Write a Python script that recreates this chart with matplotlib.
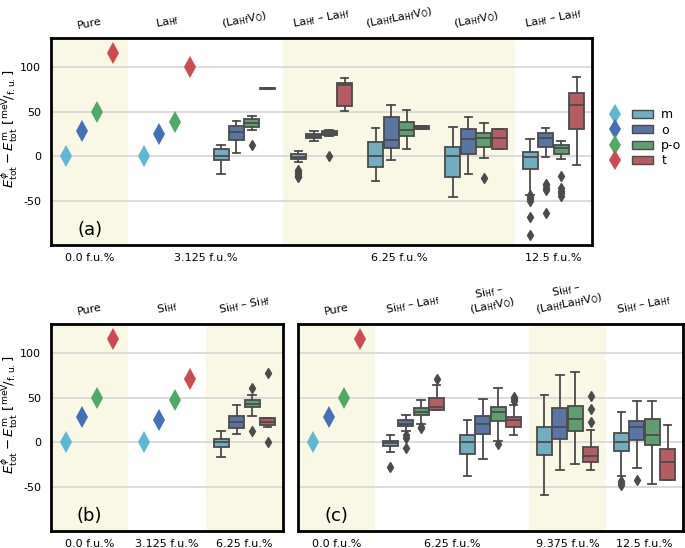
import colorsys
import numpy as np
import matplotlib
matplotlib.use('Agg')
import matplotlib.pyplot as plt
from matplotlib.lines import Line2D
from matplotlib.patches import Patch
from matplotlib.legend_handler import HandlerTuple

plt.rcParams['axes.unicode_minus'] = False
plt.rcParams['font.family'] = ['DejaVu Sans']

# ---------------- data ----------------
hues = ['m', 'o', 'p-o', 't']
hue_colors = ['#5DB8D6', '#4470B8', '#4FAA66', '#CF4950']

# box statistics per hue: (whislo, q1, median, q3, whishi, fliers)
# ---- panel (a) ----
a_pure = [0, 28, 50, 116]
a_la = [0, 25, 38, 100]
a_lavo_3125 = [(-20.5, -4.5, 0.5, 8, 13, []),
               (3, 18, 27, 34.5, 39.5, []),
               (29, 32.5, 37.5, 41.5, 45, [13]),
               (76, 76, 76.5, 77, 77, [])]
a_lala_625 = [(-6.5, -3.5, -0.5, 2, 6, [-16, -18, -20, -22, -24]),
              (17.5, 20, 22.5, 24.5, 28, []),
              (22.5, 23.5, 26, 28.5, 30, [0.5]),
              (51, 56, 80.5, 82, 88, [])]
a_lalavo_625 = [(-27.5, -12.5, 0, 16, 31.5, []),
                (-4, 9, 18, 44, 57.5, []),
                (8.5, 23, 29.5, 39, 52, []),
                (30.5, 30.5, 32.5, 34, 34, [])]
a_lavo_625 = [(-45.5, -23.5, 0, 10, 32.5, []),
              (-20, 2.5, 19.5, 30.5, 44.5, []),
              (-2.5, 10, 20, 26.5, 37, [-25]),
              (8.5, 8.5, 20, 31, 31, [])]
a_lala_125 = [(-43.5, -14.5, -0.5, 5, 19, [-44, -46, -48, -51, -68, -88.5]),
              (-1, 10, 20.5, 26.5, 31.5, [-31, -33, -36, -38, -64]),
              (-3.5, 2.5, 9, 12.5, 17, [-22, -36, -39, -42, -45]),
              (-10, 31, 58, 71.5, 89, [])]
a_groups = [a_pure, a_la, a_lavo_3125, a_lala_625, a_lalavo_625, a_lavo_625, a_lala_125]
a_names = ['Pure', r'La$_{\mathrm{Hf}}$', r'(La$_{\mathrm{Hf}}$V$_{\mathrm{O}}$)',
           r'La$_{\mathrm{Hf}}$ – La$_{\mathrm{Hf}}$',
           r'(La$_{\mathrm{Hf}}$La$_{\mathrm{Hf}}$V$_{\mathrm{O}}$)',
           r'(La$_{\mathrm{Hf}}$V$_{\mathrm{O}}$)',
           r'La$_{\mathrm{Hf}}$ – La$_{\mathrm{Hf}}$']
a_pct = ['0.0', '3.125', '3.125', '6.25', '6.25', '6.25', '12.5']

# ---- panel (b) ----
b_pure = [0, 28, 50, 116]
b_si = [0, 25, 48, 71]
b_sisi_625 = [(-16.5, -6, 0.5, 3.5, 12.5, []),
              (9.5, 16, 23, 29.5, 41.5, []),
              (29.5, 39.5, 43.5, 47, 53, [60.5, 13]),
              (17, 19, 23, 27.5, 27.5, [78, 0])]
b_groups = [b_pure, b_si, b_sisi_625]
b_names = ['Pure', r'Si$_{\mathrm{Hf}}$', r'Si$_{\mathrm{Hf}}$ – Si$_{\mathrm{Hf}}$']
b_pct = ['0.0', '3.125', '6.25']

# ---- panel (c) ----
c_pure = [0, 28, 50, 116]
c_sila_625 = [(-11, -4, -0.5, 1.5, 8, [-28]),
              (12.5, 18, 21, 24.5, 31, [8, 5, -7]),
              (20.5, 30.5, 34, 38, 48, [17.5, 15.5]),
              (36.5, 36.5, 40, 49.5, 64, [71])]
c_silavo_625 = [(-38, -13.5, 0, 8, 25, []),
                (-19, 9, 21, 29.5, 49, []),
                (1, 23.5, 33.5, 40, 61, [-2]),
                (8.5, 17, 25, 28, 41.5, [46, 48.5, 51])]
c_silalavo_9375 = [(-60, -14.5, 0, 17, 53.5, []),
                   (-31.5, 3.5, 17, 38, 76, []),
                   (-24.5, 12, 26.5, 40.5, 79, []),
                   (-31, -22, -16, -5, 14, [22.5, 37.5, 52.5])]
c_sila_125 = [(-38, -9.5, 0.5, 10, 34, [-44, -46, -48]),
              (-29, 2, 17.5, 24, 46.5, [-43]),
              (-47, -3, 8, 26.5, 46.5, []),
              (-42.5, -42.5, -22.5, -8, 19, [])]
c_groups = [c_pure, c_sila_625, c_silavo_625, c_silalavo_9375, c_sila_125]
c_names = ['Pure', r'Si$_{\mathrm{Hf}}$ – La$_{\mathrm{Hf}}$',
           'Si$_{\\mathrm{Hf}}$ –\n(La$_{\\mathrm{Hf}}$V$_{\\mathrm{O}}$)',
           'Si$_{\\mathrm{Hf}}$ –\n(La$_{\\mathrm{Hf}}$La$_{\\mathrm{Hf}}$V$_{\\mathrm{O}}$)',
           r'Si$_{\mathrm{Hf}}$ – La$_{\mathrm{Hf}}$']
c_pct = ['0.0', '6.25', '6.25', '9.375', '12.5']

y_ticks = [-50, 0, 50, 100]


# ---------------- styling helpers ----------------
def desat(c, p=0.75):
    r, g, b = matplotlib.colors.to_rgb(c)
    h, l, s = colorsys.rgb_to_hls(r, g, b)
    return colorsys.hls_to_rgb(h, l, s * p)


box_colors = [desat(c) for c in ['#64B5CD', '#4C72B0', '#55A868', '#C44E52']]
gray = '#4b4b4b'
shade = '#f8f8e4'
W = 685
H = 548
TICK_FS = 8


def draw_panel(ax, groups, names, pcts, letter, show_ylab):
    n = len(groups)
    ax.set_xlim(-0.5, n - 0.5)
    ax.set_ylim(-100, 133)
    ax.set_facecolor('white')
    uniq = list(dict.fromkeys(pcts))
    ticks, ticklabels = [], []
    for k, p in enumerate(uniq):
        idx = [i for i, q in enumerate(pcts) if q == p]
        if k % 2 == 0:
            ax.axvspan(min(idx) - 0.5, max(idx) + 0.5, color=shade, zorder=0, lw=0)
        ticks.append(np.mean(idx))
        ticklabels.append(f'{p} f.u.%')
    ax.set_xticks(ticks)
    ax.set_xticklabels(ticklabels, fontsize=TICK_FS)
    ax.set_yticks(y_ticks)
    if show_ylab:
        ax.set_yticklabels([str(t) for t in y_ticks], fontsize=TICK_FS)
    else:
        ax.set_yticklabels([])
    ax.tick_params(axis='x', length=0, pad=6)
    ax.tick_params(axis='y', length=0, pad=7)
    ax.yaxis.grid(True, color='#d6d6d6', lw=1.2, zorder=0.5)
    ax.set_axisbelow(True)
    for s in ax.spines.values():
        s.set_linewidth(2)
        s.set_color('black')
        s.set_zorder(5)

    for g, grp in enumerate(groups):
        for h, val in enumerate(grp):
            x = g + (h - 1.5) * 0.2
            if np.isscalar(val):
                ax.plot([x], [val], marker='d', ms=11, color=hue_colors[h], ls='none', zorder=3,
                        markeredgewidth=0)
            else:
                lo, q1, med, q3, hi, fl = val
                st = [dict(whislo=lo, q1=q1, med=med, q3=q3, whishi=hi, fliers=fl)]
                ax.bxp(st, positions=[x], widths=0.194, patch_artist=True, showfliers=True,
                       manage_ticks=False, capwidths=0.097,
                       boxprops=dict(facecolor=box_colors[h], edgecolor=gray, linewidth=1.3),
                       medianprops=dict(color=gray, lw=1.3),
                       whiskerprops=dict(color=gray, lw=1.3),
                       capprops=dict(color=gray, lw=1.3),
                       flierprops=dict(marker='d', markerfacecolor=gray, markeredgecolor=gray,
                                       markersize=5, ls='none'))
        ax.annotate(names[g], xy=(g, 1), xycoords=('data', 'axes fraction'),
                    xytext=(0, 7), textcoords='offset pixels', ha='center', va='bottom',
                    rotation=11, fontsize=8, linespacing=1.0, annotation_clip=False)
    ax.text(0, -83, letter, ha='center', va='center', fontsize=13)


fig = plt.figure(figsize=(W / 100, H / 100), dpi=100)


def add_ax(l, r, t, b):
    return fig.add_axes([l / W, 1 - b / H, (r - l) / W, (b - t) / H])


ax_a = add_ax(51, 592, 38, 245)
ax_b = add_ax(51, 283, 324, 531)
ax_c = add_ax(298, 683, 324, 531)

draw_panel(ax_a, a_groups, a_names, a_pct, '(a)', True)
draw_panel(ax_b, b_groups, b_names, b_pct, '(b)', True)
draw_panel(ax_c, c_groups, c_names, c_pct, '(c)', False)

ylab = (r'$E^{\phi}_{\mathrm{tot}} - E^{\mathrm{m}}_{\mathrm{tot}}\ '
        r'[{}^{\mathrm{meV}}\!/_{\mathrm{f.u.}}]$')
for ax in (ax_a, ax_b):
    ax.set_ylabel(ylab, fontsize=9.5)
    ax.yaxis.set_label_coords(-31 / (ax.get_position().width * W), 0.56)

handles = [(Line2D([], [], marker='d', ms=10, color=c, ls='none', markeredgewidth=0),
            Patch(facecolor=bc, edgecolor=gray, lw=1.0))
           for c, bc in zip(hue_colors, box_colors)]
fig.legend(handles, hues, loc='upper left', bbox_to_anchor=(605 / W, 1 - 108 / H),
           handler_map={tuple: HandlerTuple(ndivide=None, pad=0.45)},
           frameon=False, fontsize=9, handlelength=3.8, handleheight=0.6,
           handletextpad=0.7, labelspacing=0.2, borderpad=0, borderaxespad=0)

fig.savefig('out.png', dpi=100)
